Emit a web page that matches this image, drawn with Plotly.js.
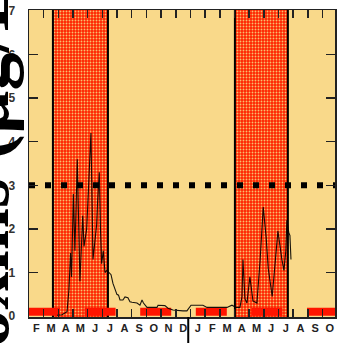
<!DOCTYPE html>
<html>
<head>
<meta charset="utf-8">
<script src="https://cdn.plot.ly/plotly-3.0.1.min.js"></script>
<style>
html,body{margin:0;padding:0;background:#fff;}
#chart{width:339px;height:343px;}
</style>
</head>
<body>
<div id="chart"></div>
<script>
// Month index: 0 = January of year 1, 12 = January of year 2
const monthLabels = ['F','M','A','M','J','J','A','S','O','N','D','J','F','M','A','M','J','J','A','S','O'];
const firstLabelMonth = 1;

// Bloom periods (start/end month index)
const periodStart = [2.63, 15.03];
const periodEnd   = [6.38, 18.64];

// Measured series
const sampleMonth = [2.91,3.25,3.59,3.72,3.83,3.90,4.02,4.13,4.29,4.37,4.47,4.66,4.75,4.93,5.02,5.22,5.36,5.50,5.61,5.67,5.79,5.87,5.95,6.06,6.18,6.31,6.59,6.72,6.86,6.99,7.10,7.20,7.40,7.54,7.74,7.88,8.02,8.22,8.36,8.56,8.70,8.80,9.04,9.45,9.72,9.79,10.26,10.47,10.81,11.49,11.76,12.04,12.85,13.13,14.01,14.49,14.83,15.10,15.37,15.51,15.58,15.71,15.85,16.05,16.26,16.53,16.75,16.96,17.16,17.30,17.57,17.78,17.96,18.23,18.37,18.50,18.57,18.71,18.78,18.85];
const sampleValue = [0.02,0.03,0.10,0.60,1.45,0.90,2.80,1.50,3.60,2.20,0.80,2.30,1.60,2.00,2.60,4.20,1.30,1.80,2.10,2.60,3.30,2.00,1.20,1.50,1.00,1.05,0.95,0.75,0.60,0.50,0.48,0.37,0.37,0.44,0.42,0.33,0.32,0.30,0.30,0.25,0.37,0.30,0.20,0.20,0.20,0.25,0.24,0.18,0.14,0.12,0.12,0.25,0.25,0.20,0.20,0.20,0.25,0.20,0.20,0.44,1.30,0.40,0.30,0.90,0.35,0.30,1.30,2.50,1.80,1.10,0.45,1.30,1.95,1.30,1.05,1.50,2.20,1.90,1.85,1.30];

const guideline = 3;
const detectionLimit = 0.1;
const yTicks = [0,1,2,3,4,5,6,7];

const xRange = [1, 21.85];
const yRange = [-0.02, 7.02];

const labelVals = monthLabels.map((_, i) => firstLabelMonth + i + 0.5);
const monthStarts = [];
for (let m = Math.ceil(xRange[0] + 0.01); m < xRange[1]; m++) monthStarts.push(m);

const traces = [
  {
    type: 'bar',
    x: periodStart.map((s, i) => (s + periodEnd[i]) / 2),
    width: periodStart.map((s, i) => periodEnd[i] - s),
    y: periodStart.map(() => 8),
    base: periodStart.map(() => -0.5),
    marker: {
      color: '#ff2a00',
      line: {color: '#000', width: 2},
      pattern: {shape: '.', fillmode: 'replace', bgcolor: '#ff2400', fgcolor: '#f7c070', size: 3, solidity: 0.3}
    },
    hoverinfo: 'skip', showlegend: false
  },
  {
    type: 'scatter', mode: 'lines',
    x: xRange, y: [detectionLimit, detectionLimit],
    line: {color: '#ff1500', width: 8, dash: '31px,24.6px'},
    hoverinfo: 'skip', showlegend: false
  },
  {
    type: 'scatter', mode: 'lines',
    x: sampleMonth, y: sampleValue,
    line: {color: '#000', width: 1.1},
    opacity: 0.9,
    showlegend: false
  },
  {
    type: 'scatter', mode: 'lines',
    x: xRange, y: [guideline, guideline],
    line: {color: '#000', width: 6, dash: '6px,10px'},
    hoverinfo: 'skip', showlegend: false
  }
];

const layout = {
  width: 339, height: 343,
  margin: {l: 29, r: 4, t: 10, b: 26},
  paper_bgcolor: '#ffffff',
  plot_bgcolor: '#f9d98a',
  barmode: 'overlay',
  showlegend: false,
  xaxis: {
    range: xRange, type: 'linear',
    tickmode: 'array', tickvals: labelVals, ticktext: monthLabels,
    ticks: '', showgrid: false, zeroline: false,
    showline: true, linecolor: '#222', linewidth: 1.5, mirror: 'ticks',
    tickfont: {family: 'Liberation Sans, Arial, sans-serif', size: 11, color: '#222', weight: 'bold'},
    minor: {tickmode: 'array', tickvals: monthStarts, ticks: 'inside', ticklen: 8, tickwidth: 1.5, tickcolor: '#222', showgrid: false},
    fixedrange: true
  },
  yaxis: {
    range: yRange,
    tickmode: 'array', tickvals: yTicks,
    ticks: 'inside', ticklen: 9, tickwidth: 1.5, tickcolor: '#222',
    showgrid: false, zeroline: false,
    showline: true, linecolor: '#222', linewidth: 1.5, mirror: 'ticks',
    ticklabelstandoff: 10,
    tickfont: {family: 'Liberation Sans, Arial, sans-serif', size: 12, color: '#333', weight: 'bold'},
    fixedrange: true
  },
  shapes: [
    {type: 'line', xref: 'x', yref: 'paper', x0: 11.85, x1: 11.85, y0: 0, y1: -0.09,
     line: {color: '#000', width: 2}}
  ],
  annotations: [
    {xref: 'paper', yref: 'paper', x: -0.152, y: 0.47, xanchor: 'center', yanchor: 'middle',
     text: 'Toxins (µg/L)', textangle: -90, showarrow: false,
     font: {family: 'Liberation Serif, Times New Roman, serif', size: 76, color: '#000', weight: 'bold'}}
  ]
};

Plotly.newPlot('chart', traces, layout, {displayModeBar: false, staticPlot: true});
</script>
</body>
</html>
